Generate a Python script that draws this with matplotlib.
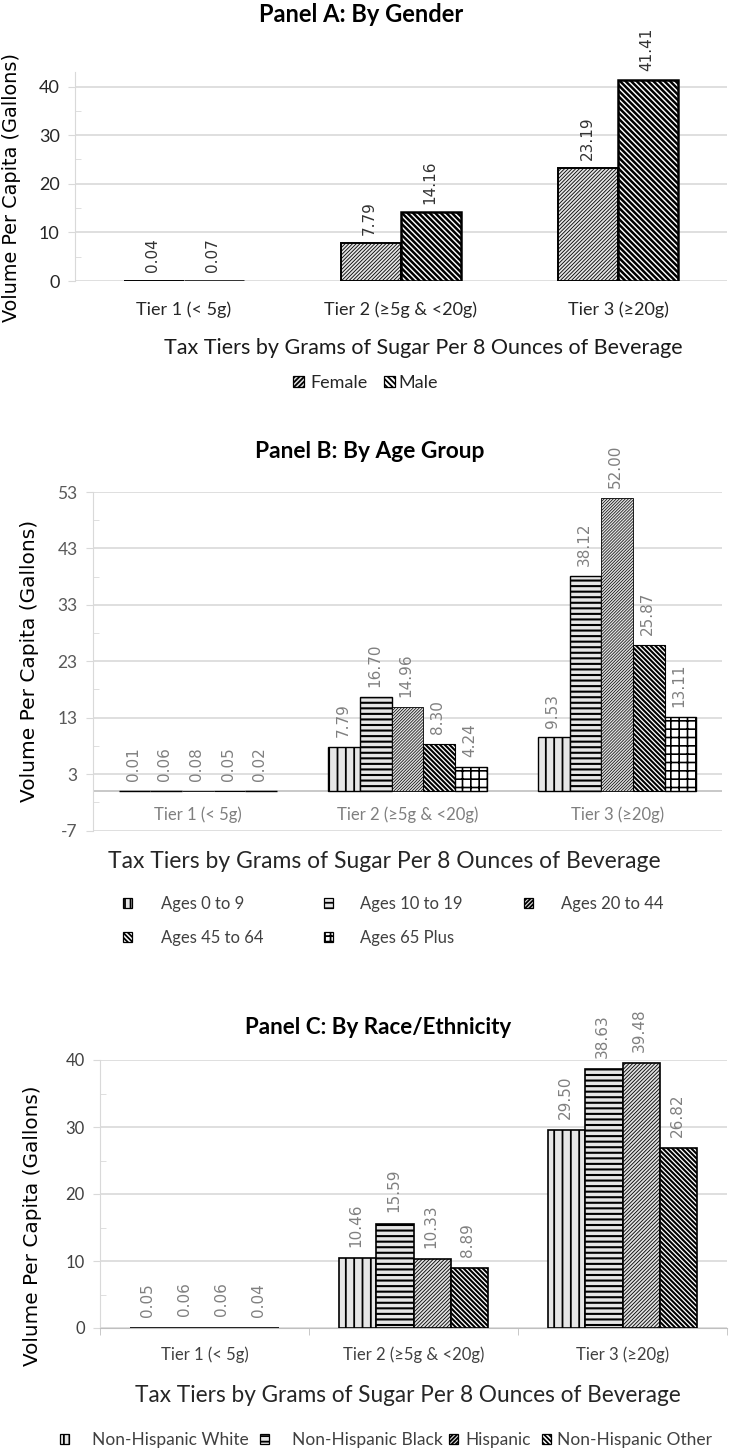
import matplotlib
matplotlib.use('Agg')
import matplotlib.pyplot as plt
from matplotlib.patches import Patch
from matplotlib.ticker import FixedLocator
import numpy as np

# data
tiers = ['Tier 1 (< 5g)', 'Tier 2 (\u22655g & <20g)', 'Tier 3 (\u226520g)']
xlabel = 'Tax Tiers by Grams of Sugar Per 8 Ounces of Beverage'
ylabel = 'Volume Per Capita (Gallons)'

gender_labels = ['Female', 'Male']
female = [0.04, 7.79, 23.19]
male = [0.07, 14.16, 41.41]

age_labels = ['Ages 0 to 9', 'Ages 10 to 19', 'Ages 20 to 44', 'Ages 45 to 64', 'Ages 65 Plus']
age_0_9 = [0.01, 7.79, 9.53]
age_10_19 = [0.06, 16.70, 38.12]
age_20_44 = [0.08, 14.96, 52.00]
age_45_64 = [0.05, 8.30, 25.87]
age_65_plus = [0.02, 4.24, 13.11]

race_labels = ['Non-Hispanic White', 'Non-Hispanic Black', 'Hispanic', 'Non-Hispanic Other']
nh_white = [0.05, 10.46, 29.50]
nh_black = [0.06, 15.59, 38.63]
hispanic = [0.06, 10.33, 39.48]
nh_other = [0.04, 8.89, 26.82]

W, H = 729, 1449
CAL = 'Lato'
VER = 'DejaVu Sans'
GRID = '#d9d9d9'
plt.rcParams['axes.unicode_minus'] = False
plt.rcParams['hatch.linewidth'] = 1.3


def rect(left, right, top, bottom):
    return [left / W, 1 - bottom / H, (right - left) / W, (bottom - top) / H]


def fx(x):
    return x / W


def fy(y):
    return 1 - y / H


def grouped_bars(ax, series, styles, width, lab_color, lab_size, lab_off):
    n = len(series)
    x = np.arange(len(tiers))
    for k, (vals, st) in enumerate(zip(series, styles)):
        pos = x + (k - (n - 1) / 2) * width
        with plt.rc_context({'hatch.linewidth': st['hlw']}):
            bars = ax.bar(pos, vals, width, color=st['fc'], edgecolor='black',
                          hatch=st['hatch'], linewidth=st['elw'], zorder=3)
        for b in bars:
            if hasattr(b, 'set_hatch_linewidth'):
                b.set_hatch_linewidth(st['hlw'])
        for p, v in zip(pos, vals):
            ax.annotate(f'{v:.2f}', (p, v), xytext=(-1, lab_off), textcoords='offset points',
                        rotation=90, ha='center', va='bottom', fontsize=lab_size,
                        color=lab_color, family=VER)


def style_axis(ax, ymin, ymax, step, tick_color, tick_size):
    ax.set_xlim(-0.5, 2.5)
    ax.set_ylim(ymin, ymax)
    ax.yaxis.set_major_locator(FixedLocator(np.arange(ymin, ymax + 0.01, step)))
    ax.yaxis.set_minor_locator(FixedLocator(np.arange(ymin + step / 2, ymax, step)))
    ax.grid(axis='y', color=GRID, linewidth=1.2, zorder=0)
    ax.set_axisbelow(True)
    for s in ['top', 'right', 'bottom']:
        ax.spines[s].set_visible(False)
    ax.spines['left'].set_color(GRID)
    ax.tick_params(axis='y', which='major', direction='out', length=5, color=GRID,
                   labelsize=tick_size, labelcolor=tick_color, pad=6)
    ax.tick_params(axis='y', which='minor', direction='in', length=4, color=GRID)
    for t in ax.get_yticklabels():
        t.set_family(CAL)


def legend_item(fig, st, label, left, text_x, y, size, color, hsize):
    fs_px = size * 100 / 72
    with plt.rc_context({'hatch.linewidth': min(st['hlw'], 1.0)}):
        h = Patch(facecolor=st['fc'], edgecolor='black', hatch=st['lhatch'], linewidth=0.9)
    fig.legend([h], [label], loc='center left', bbox_to_anchor=(fx(left), fy(y)),
               bbox_transform=fig.transFigure, frameon=False, borderpad=0, borderaxespad=0,
               handlelength=hsize / fs_px, handleheight=hsize / fs_px,
               handletextpad=(text_x - left - hsize) / fs_px,
               prop={'family': CAL, 'size': size}, labelcolor=color)


fig = plt.figure(figsize=(W / 100, H / 100), dpi=100)

# ---------------- Panel A ----------------
axA = fig.add_axes(rect(75, 727, 72, 281))
stylesA = [
    dict(fc='#e4e4e4', hatch='/' * 9, lhatch='/' * 7, hlw=0.6, elw=1.4),
    dict(fc='white', hatch='\\' * 6, lhatch='\\' * 6, hlw=1.8, elw=1.8),
]
grouped_bars(axA, [female, male], stylesA, 0.276, '#333333', 11, 6)
style_axis(axA, 0, 40, 10, '#262626', 13)
axA.set_ylim(0, 43)
axA.set_xticks(range(3))
axA.set_xticklabels(tiers, family=CAL, fontsize=13, color='#262626')
axA.tick_params(axis='x', length=0, pad=15)
fig.text(fx(361), fy(14), 'Panel A: By Gender', ha='center', va='center',
         family=CAL, fontweight='bold', fontsize=17, color='black')
fig.text(fx(423), fy(348), xlabel, ha='center', va='center', family=CAL, fontsize=15.5, color='#1a1a1a')
fig.text(fx(12), fy(188), ylabel, ha='center', va='center', rotation=90, family=VER, fontsize=13.9, color='black')
for st, lab, left, tx in zip(stylesA, gender_labels, [293, 384], [310, 398]):
    legend_item(fig, st, lab, left, tx, 383, 13, '#262626', 11)

# ---------------- Panel B ----------------
axB = fig.add_axes(rect(93, 722, 492, 830.5))
stylesB = [
    dict(fc='#e6e6e6', hatch='||', lhatch='|||', hlw=1.3, elw=1.0),
    dict(fc='#e6e6e6', hatch='---', lhatch='---', hlw=1.5, elw=1.0),
    dict(fc='#e0e0e0', hatch='/' * 11, lhatch='/' * 8, hlw=0.5, elw=0.6),
    dict(fc='white', hatch='\\' * 7, lhatch='\\' * 7, hlw=1.5, elw=0.8),
    dict(fc='white', hatch='++', lhatch='+++', hlw=1.2, elw=1.0),
]
grouped_bars(axB, [age_0_9, age_10_19, age_20_44, age_45_64, age_65_plus], stylesB, 0.151,
             '#808080', 11, 7)
style_axis(axB, -7, 53, 10, '#595959', 12.5)
axB.axhline(0, color='#bfbfbf', linewidth=1.2, zorder=2)
axB.set_xticks(range(3))
axB.set_xticklabels(tiers, family=CAL, fontsize=12, color='#7f7f7f')
axB.tick_params(axis='x', length=0, pad=-17)
fig.text(fx(370), fy(452), 'Panel B: By Age Group', ha='center', va='center',
         family=CAL, fontweight='bold', fontsize=16.4, color='black')
fig.text(fx(384), fy(862), xlabel, ha='center', va='center', family=CAL, fontsize=16.5, color='#262626')
fig.text(fx(30), fy(661), ylabel, ha='center', va='center', rotation=90, family=VER, fontsize=14.5, color='black')
legB_left = [123, 324, 524, 123, 324]
legB_text = [161, 360, 561, 161, 360]
legB_y = [904, 904, 904, 938, 938]
for st, lab, left, tx, y in zip(stylesB, age_labels, legB_left, legB_text, legB_y):
    legend_item(fig, st, lab, left, tx, y, 12, '#404040', 9)

# ---------------- Panel C ----------------
axC = fig.add_axes(rect(100, 727, 1060, 1328))
stylesC = [
    dict(fc='#e6e6e6', hatch='||', lhatch='|||', hlw=1.3, elw=1.2),
    dict(fc='#e6e6e6', hatch='---', lhatch='---', hlw=1.5, elw=1.2),
    dict(fc='#e0e0e0', hatch='/' * 9, lhatch='/' * 8, hlw=0.6, elw=1.2),
    dict(fc='white', hatch='\\' * 7, lhatch='\\' * 7, hlw=1.5, elw=1.2),
]
grouped_bars(axC, [nh_white, nh_black, hispanic, nh_other], stylesC, 0.178, '#808080', 11, 8)
style_axis(axC, 0, 40, 10, '#404040', 12)
axC.spines['bottom'].set_visible(True)
axC.spines['bottom'].set_color('#bfbfbf')
axC.set_xticks(range(3))
axC.set_xticks([-0.5, 0.5, 1.5, 2.5], minor=True)
axC.set_xticklabels(tiers, family=CAL, fontsize=12, color='#404040')
axC.tick_params(axis='x', which='major', length=0, pad=13)
axC.tick_params(axis='x', which='minor', length=5, color='#bfbfbf')
fig.text(fx(378), fy(1028), 'Panel C: By Race/Ethnicity', ha='center', va='center',
         family=CAL, fontweight='bold', fontsize=16.1, color='black')
fig.text(fx(408), fy(1395), xlabel, ha='center', va='center', family=CAL, fontsize=16.3, color='#262626')
fig.text(fx(33), fy(1226), ylabel, ha='center', va='center', rotation=90, family=VER, fontsize=14.4, color='black')
legC_left = [60, 260, 449, 542]
legC_text = [92, 292, 465, 557]
for st, lab, left, tx in zip(stylesC, race_labels, legC_left, legC_text):
    legend_item(fig, st, lab, left, tx, 1440, 12.5, '#404040', 9)

fig.savefig('out.png', dpi=100)
